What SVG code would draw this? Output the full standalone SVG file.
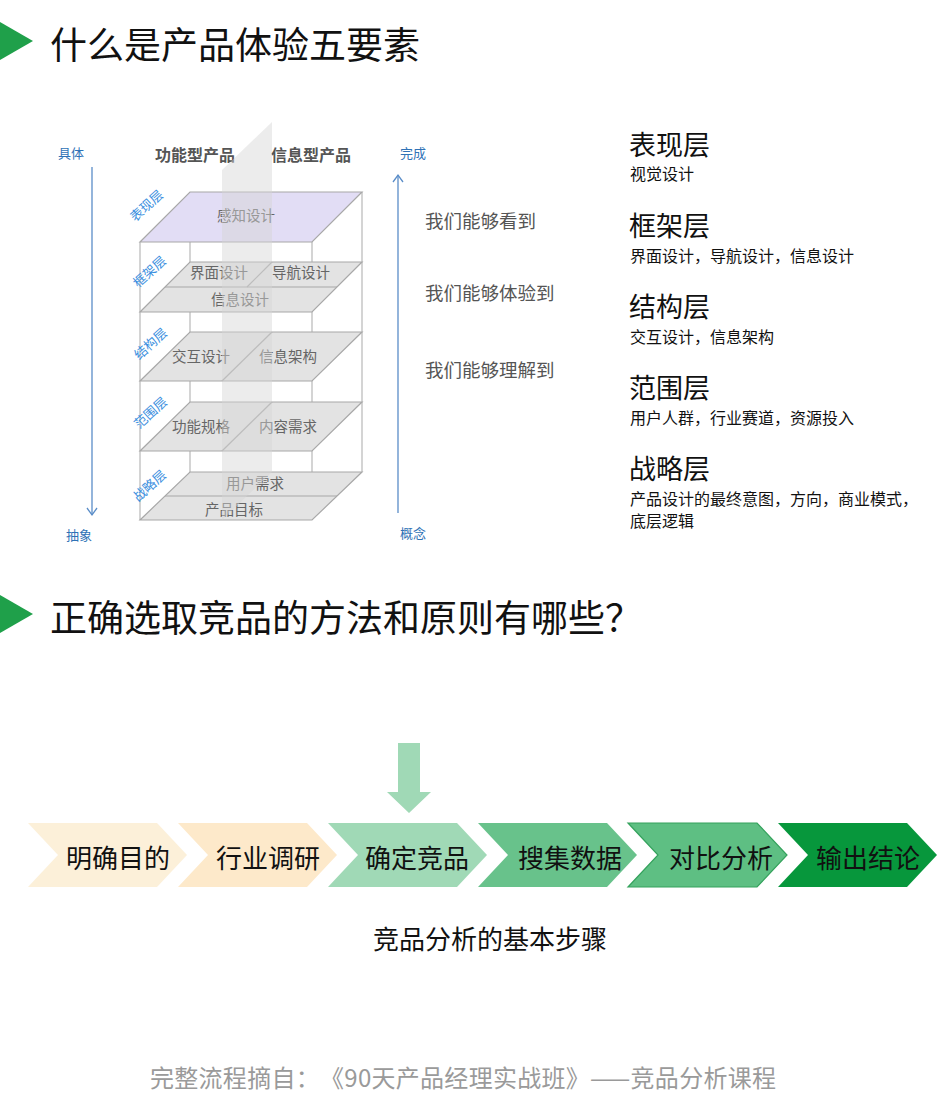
<svg xmlns="http://www.w3.org/2000/svg" width="947" height="1113" viewBox="0 0 947 1113">
<style>
text{font-family:"Noto Sans CJK SC","Noto Sans",sans-serif;dominant-baseline:central;text-spacing-trim:space-all}
.title{font-size:37px;fill:#111}
.tri{fill:#1fa04a}
.ax{stroke:#5a8dc8;stroke-width:1.3;fill:none}
.axt{font-size:13px;fill:#2f72b6}
.hdr{font-size:16px;fill:#555;font-weight:bold;text-anchor:middle}
.lay{fill:#e3e3e3;stroke:#a8a8a8;stroke-width:1.2}
.top{fill:#e2ddf5;stroke:#a8a8a8;stroke-width:1.2}
.edge{stroke:#b8b8b8;stroke-width:1.2;fill:none}
.sep{stroke:#a8a8a8;stroke-width:1.2;fill:none}
.lt{font-size:14.5px;fill:#666;text-anchor:middle}
.bl{font-size:13px;fill:#3b8fe0;text-anchor:middle}
.mid{font-size:18.5px;fill:#555}
.rh{font-size:27px;fill:#111}
.rs{font-size:16px;fill:#111}
.chev{font-size:26px;fill:#111;text-anchor:middle}
</style>

<g id="header1">
<polygon class="tri" points="0,22 33,41 0,60"/>
<text class="title" x="50" y="43">什么是产品体验五要素</text>
</g>

<g id="stack">
<g id="axis-left">
<text class="axt" x="58" y="152">具体</text>
<line class="ax" x1="92" y1="167" x2="92" y2="515"/>
<polyline class="ax" points="87,508 92,515 97,508"/>
<text class="axt" x="66" y="534">抽象</text>
</g>
<g id="col-headers">
<text class="hdr" x="195" y="154">功能型产品</text>
<text class="hdr" x="311" y="154">信息型产品</text>
</g>
<g id="box-edges">
<line class="edge" x1="140" y1="242" x2="140" y2="520"/>
<line class="edge" x1="312" y1="242" x2="312" y2="520"/>
<line class="edge" x1="362" y1="192" x2="362" y2="472"/>
<line class="edge" x1="190" y1="242" x2="190" y2="472"/>
</g>
<g id="layer-strategy">
<polygon class="lay" points="190,472 362,472 312,520 140,520"/>
<line class="sep" x1="165" y1="496" x2="337" y2="496"/>
<text class="lt" x="255" y="482">用户需求</text>
<text class="lt" x="234" y="508">产品目标</text>
</g>
<g id="layer-scope">
<polygon class="lay" points="190,402 362,402 312,451 140,451"/>
<line class="sep" x1="222" y1="451" x2="272" y2="402"/>
<text class="lt" x="201" y="425">功能规格</text>
<text class="lt" x="288" y="425">内容需求</text>
</g>
<g id="layer-structure">
<polygon class="lay" points="190,332 362,332 312,381 140,381"/>
<line class="sep" x1="222" y1="381" x2="272" y2="332"/>
<text class="lt" x="201" y="355">交互设计</text>
<text class="lt" x="288" y="355">信息架构</text>
</g>
<g id="layer-framework">
<polygon class="lay" points="190,262 362,262 312,312 140,312"/>
<line class="sep" x1="165" y1="287" x2="337" y2="287"/>
<line class="sep" x1="247" y1="287" x2="272" y2="262"/>
<text class="lt" x="219" y="271">界面设计</text>
<text class="lt" x="301" y="271">导航设计</text>
<text class="lt" x="240" y="298">信息设计</text>
</g>
<g id="layer-surface">
<polygon class="top" points="190,192 362,192 312,242 140,242"/>
<text class="lt" x="246" y="214">感知设计</text>
</g>
<g id="band">
<polygon points="222,170 272,122 272,472 222,520" fill="#d4d4d4" fill-opacity="0.45"/>
</g>
<g id="layer-labels">
<text class="bl" transform="translate(146,205) rotate(-42)">表现层</text>
<text class="bl" transform="translate(149,271) rotate(-42)">框架层</text>
<text class="bl" transform="translate(150,343) rotate(-42)">结构层</text>
<text class="bl" transform="translate(150,412) rotate(-42)">范围层</text>
<text class="bl" transform="translate(149,485) rotate(-42)">战略层</text>
</g>
<g id="axis-right">
<text class="axt" x="400" y="152">完成</text>
<line class="ax" x1="398" y1="175" x2="398" y2="513"/>
<polyline class="ax" points="393,182 398,175 403,182"/>
<text class="axt" x="400" y="532">概念</text>
</g>
<g id="mid-texts">
<text class="mid" x="425" y="220">我们能够看到</text>
<text class="mid" x="425" y="292">我们能够体验到</text>
<text class="mid" x="425" y="369">我们能够理解到</text>
</g>
</g>

<g id="legend">
<g id="lg-surface"><text class="rh" x="629" y="143">表现层</text><text class="rs" x="630" y="173">视觉设计</text></g>
<g id="lg-framework"><text class="rh" x="629" y="224">框架层</text><text class="rs" x="630" y="255">界面设计，导航设计，信息设计</text></g>
<g id="lg-structure"><text class="rh" x="629" y="305">结构层</text><text class="rs" x="630" y="336">交互设计，信息架构</text></g>
<g id="lg-scope"><text class="rh" x="629" y="386">范围层</text><text class="rs" x="630" y="417">用户人群，行业赛道，资源投入</text></g>
<g id="lg-strategy"><text class="rh" x="629" y="467">战略层</text><text class="rs" x="630" y="498">产品设计的最终意图，方向，商业模式，</text><text class="rs" x="630" y="520">底层逻辑</text></g>
</g>

<g id="header2">
<polygon class="tri" points="0,595 33,614 0,633"/>
<text class="title" x="50" y="616">正确选取竞品的方法和原则有哪些？</text>
</g>

<g id="connectors">
<polygon points="398,743 420,743 420,792 431,792 409,813 387,792 398,792" fill="#a0d9b6"/>
</g>

<g id="step1"><polygon points="28,823 157,823 187,855 157,887 28,887 58,855" fill="#fcf0d9"/><text class="chev" x="118" y="856">明确目的</text></g>
<g id="step2"><polygon points="178,823 307,823 337,855 307,887 178,887 208,855" fill="#fde9ca"/><text class="chev" x="268" y="856">行业调研</text></g>
<g id="step3"><polygon points="328,823 457,823 487,855 457,887 328,887 358,855" fill="#a0d9b6"/><text class="chev" x="417" y="856">确定竞品</text></g>
<g id="step4"><polygon points="478,823 607,823 637,855 607,887 478,887 508,855" fill="#68c28b"/><text class="chev" x="570" y="856">搜集数据</text></g>
<g id="step5"><polygon points="628,823 757,823 787,855 757,887 628,887 658,855" fill="#5ebf83" stroke="#34a25c" stroke-width="1.2"/><text class="chev" x="721" y="856">对比分析</text></g>
<g id="step6"><polygon points="778,823 907,823 937,855 907,887 778,887 808,855" fill="#07973c"/><text class="chev" x="868" y="856">输出结论</text></g>

<g id="caption">
<text x="490" y="937" font-size="26" fill="#111" text-anchor="middle">竞品分析的基本步骤</text>
</g>

<g id="footer">
<text x="150" y="1076" font-size="24" fill="#9a9a9a" textLength="626" lengthAdjust="spacing">完整流程摘自：《90天产品经理实战班》——竞品分析课程</text>
</g>
</svg>
